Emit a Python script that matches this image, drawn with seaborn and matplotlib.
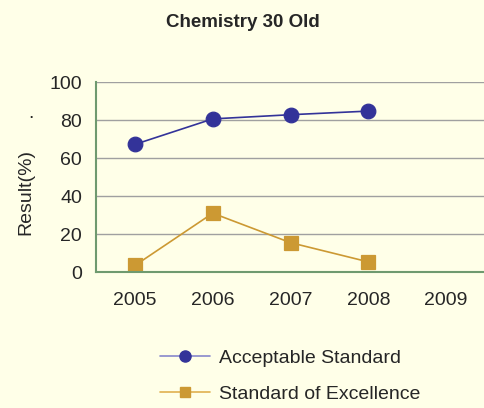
import pandas as pd
import seaborn as sns
import matplotlib.pyplot as plt
from matplotlib.lines import Line2D

# values
years = ['2005', '2006', '2007', '2008', '2009']
acceptable = [67.2, 80.6, 82.8, 84.7, None]
excellence = [3.5, 31.0, 15.5, 5.4, None]
series_names = ['Acceptable Standard', 'Standard of Excellence']
colors = ['#333399', '#CC9933']

bg = '#FFFFE8'
sns.set_style('white')
plt.rcParams['font.family'] = ['Liberation Sans', 'DejaVu Sans']

df = pd.DataFrame({
    'year': years * 2,
    'value': acceptable + excellence,
    'series': [series_names[0]] * 5 + [series_names[1]] * 5,
})

fig = plt.figure(figsize=(4.85, 4.08), dpi=100, facecolor=bg)
ax = fig.add_axes([0.198, 0.333, 0.802, 0.466], facecolor=bg)

sns.pointplot(data=df, x='year', y='value', hue='series', order=years,
              hue_order=series_names, palette=colors, markers=['o', 's'],
              markersize=10.5, linewidth=1.2, ax=ax, legend=False)

ax.set_xlim(-0.5, 4.5)
ax.set_ylim(0, 100)
ax.set_yticks(range(0, 101, 20))
ax.yaxis.grid(True, color='#a0a0a0', linewidth=1)
ax.set_axisbelow(True)

ax.set_xticks([i - 0.5 for i in range(5)], minor=True)
ax.tick_params(axis='x', which='major', length=0, labelsize=14, pad=14)
ax.tick_params(axis='x', which='minor', length=5, color='#6f9a6f', direction='out')
ax.tick_params(axis='y', length=4, color='#6f9a6f', labelsize=14, direction='out', pad=6)

for side in ['top', 'right']:
    ax.spines[side].set_visible(False)
for side in ['left', 'bottom']:
    ax.spines[side].set_color('#6f9a6f')
    ax.spines[side].set_linewidth(1.5)

ax.set_xlabel('')
ax.set_ylabel('Result(%)', fontsize=14, va='center')
ax.yaxis.set_label_coords(-0.181, 0.42)
fig.text(0.063, 0.71, '.', fontsize=14, ha='center')

fig.suptitle('Chemistry 30 Old', fontsize=13.5, fontweight='bold', y=0.965)

handles = [
    Line2D([], [], color='#8888cc', marker='o', markerfacecolor=colors[0],
           markeredgecolor=colors[0], markersize=8, linewidth=1.2),
    Line2D([], [], color='#e0b050', marker='s', markerfacecolor=colors[1],
           markeredgecolor=colors[1], markersize=7, linewidth=1.2),
]
fig.legend(handles, series_names, loc='center', bbox_to_anchor=(0.598, 0.079),
           frameon=False, fontsize=14, handlelength=2.6, labelspacing=0.95,
           handletextpad=0.45)

fig.savefig('out.png', dpi=100, facecolor=bg)
